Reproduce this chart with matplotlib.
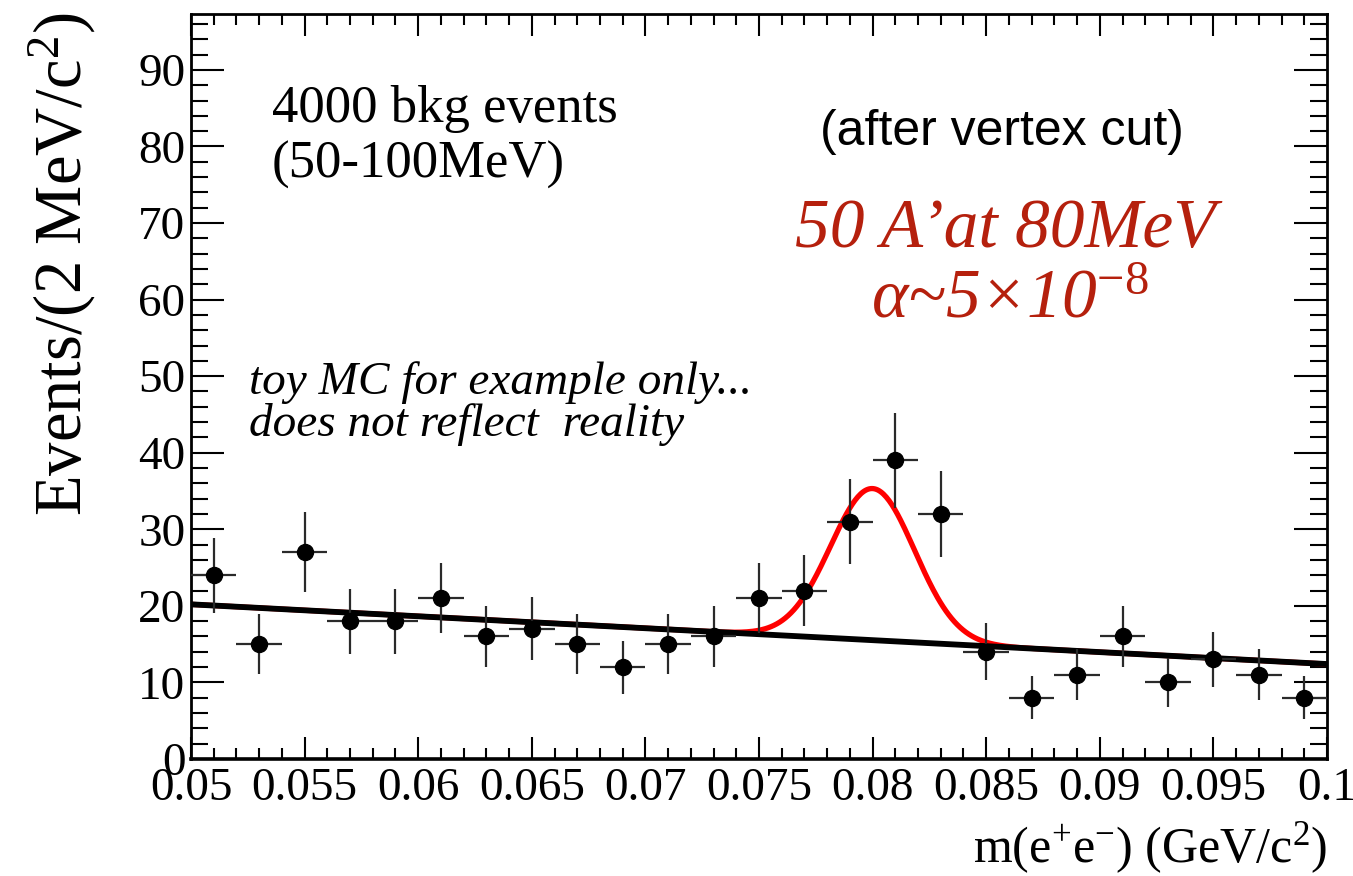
import numpy as np
import matplotlib
matplotlib.use("Agg")
import matplotlib.pyplot as plt
from matplotlib.ticker import MultipleLocator, FixedLocator

plt.rcParams['font.family'] = ['Liberation Serif', 'DejaVu Serif']
plt.rcParams['mathtext.fontset'] = 'custom'
plt.rcParams['mathtext.rm'] = 'Liberation Serif'
plt.rcParams['mathtext.it'] = 'Liberation Serif:italic'
plt.rcParams['mathtext.bf'] = 'Liberation Serif:bold'

# ---- data ----
bin_centers = [0.051, 0.053, 0.055, 0.057, 0.059, 0.061, 0.063, 0.065, 0.067,
               0.069, 0.071, 0.073, 0.075, 0.077, 0.079, 0.081, 0.083, 0.085,
               0.087, 0.089, 0.091, 0.093, 0.095, 0.097, 0.099]
counts = [24, 15, 27, 18, 18, 21, 16, 17, 15, 12, 15, 16, 21, 22, 31, 39, 32,
          14, 8, 11, 16, 10, 13, 11, 8]
bin_width = 0.002

# fitted function parameters (linear background + gaussian signal)
bkg_at_xmin = 20.2
bkg_at_xmax = 12.4
sig_amp = 19.8
sig_mean = 0.080
sig_sigma = 0.00185

xmin, xmax = 0.05, 0.1
ymin, ymax = 0, 97.3
xtick_vals = [0.05, 0.055, 0.06, 0.065, 0.07, 0.075, 0.08, 0.085, 0.09, 0.095, 0.1]
xtick_labels = ['0.05', '0.055', '0.06', '0.065', '0.07', '0.075', '0.08',
                '0.085', '0.09', '0.095', '0.1']
ytick_vals = [0, 10, 20, 30, 40, 50, 60, 70, 80, 90]

W, H = 1353, 876
fig = plt.figure(figsize=(W / 100, H / 100), dpi=100)
ax = fig.add_axes([191 / W, 1 - 759 / H, (1327 - 191) / W, (759 - 14) / H])

x = np.array(bin_centers)
y = np.array(counts, dtype=float)
yerr = np.sqrt(y)

# fit curves
xf = np.linspace(xmin, xmax, 800)
bkg = bkg_at_xmin + (bkg_at_xmax - bkg_at_xmin) * (xf - xmin) / (xmax - xmin)
total = bkg + sig_amp * np.exp(-0.5 * ((xf - sig_mean) / sig_sigma) ** 2)

ax.plot(xf, total, color='#ff0000', lw=3.8, zorder=2, solid_capstyle='butt')
ax.plot(xf, bkg, color='black', lw=4.2, zorder=3, solid_capstyle='butt')

ax.errorbar(x, y, yerr=yerr, xerr=bin_width / 2, fmt='none', ecolor='#2a2a2a',
            elinewidth=1.6, capsize=0, zorder=4)
ax.plot(x, y, 'o', color='black', ms=11.5, zorder=5)

ax.set_xlim(xmin, xmax)
ax.set_ylim(ymin, ymax)

ax.xaxis.set_major_locator(FixedLocator(xtick_vals))
ax.set_xticklabels(xtick_labels)
ax.xaxis.set_minor_locator(MultipleLocator(0.001))
ax.yaxis.set_major_locator(FixedLocator(ytick_vals))
ax.yaxis.set_minor_locator(MultipleLocator(2))

ax.tick_params(axis='both', which='both', direction='in', top=True, right=True,
               width=1.5, labelsize=34, colors='black')
ax.xaxis.set_tick_params(which='major', length=16, pad=6)
ax.xaxis.set_tick_params(which='minor', length=8)
ax.yaxis.set_tick_params(which='major', length=24, pad=4)
ax.yaxis.set_tick_params(which='minor', length=12)
for s in ax.spines.values():
    s.set_linewidth(2)
ax.spines['bottom'].set_linewidth(2.6)

# axis titles
fig.text(62 / W, 1 - 12 / H, 'Events/(2 MeV/c$^{2}$)', rotation=90,
         ha='center', va='top', fontsize=48)
fig.text(1327 / W, 1 - 862 / H, 'm(e$^{+}$e$^{-}$) (GeV/c$^{2}$)',
         ha='right', va='baseline', fontsize=36)

# annotations
fig.text(272 / W, 1 - 122 / H, '4000 bkg events', ha='left', va='baseline',
         fontsize=38)
fig.text(272 / W, 1 - 178 / H, '(50-100MeV)', ha='left', va='baseline',
         fontsize=38)
fig.text(1002 / W, 1 - 145 / H, '(after vertex cut)', ha='center',
         va='baseline', fontsize=36, family=['Liberation Sans', 'DejaVu Sans'])
red = '#b5200d'
fig.text(1005 / W, 1 - 247 / H, '50 A\u2019at 80MeV', ha='center',
         va='baseline', fontsize=50, style='italic', color=red)
fig.text(1010 / W, 1 - 318 / H, '\u03b1~5\u00d710$^{\\mathit{-8}}$',
         ha='center', va='baseline', fontsize=50, style='italic', color=red)
fig.text(249 / W, 1 - 394 / H, 'toy MC for example only...', ha='left',
         va='baseline', fontsize=34, style='italic')
fig.text(249 / W, 1 - 436 / H, 'does not reflect  reality', ha='left',
         va='baseline', fontsize=34, style='italic')

fig.savefig('out.png', dpi=100)
